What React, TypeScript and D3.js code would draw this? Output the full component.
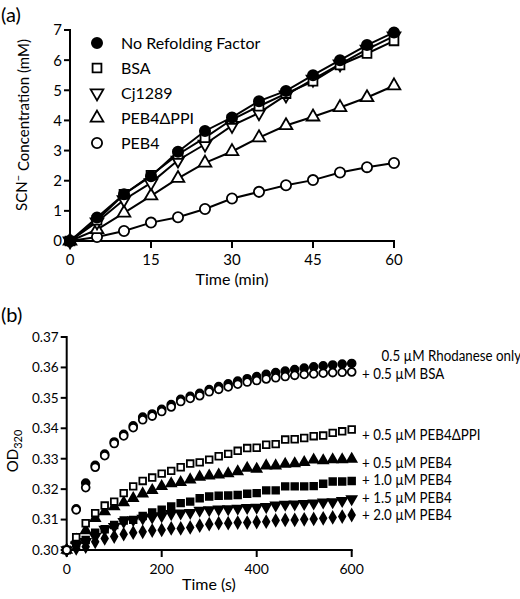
import React from "react";
import * as d3 from "d3";

// ---------- Panel (a) data ----------
const timesA = [0, 5, 10, 15, 20, 25, 30, 35, 40, 45, 50, 55, 60];
const noFactor = [0, 0.78, 1.55, 2.15, 2.96, 3.65, 4.1, 4.64, 4.98, 5.5, 6.0, 6.5, 6.92];
const bsa = [0, 0.69, 1.55, 2.18, 2.87, 3.43, 4.03, 4.47, 4.89, 5.3, 5.84, 6.22, 6.64];
const cj1289 = [0, 0.63, 1.37, 1.93, 2.68, 3.21, 3.83, 4.25, 4.84, 5.36, 5.87, 6.36, 6.8];
const peb4dppi = [0, 0.38, 0.93, 1.5, 2.08, 2.59, 2.97, 3.43, 3.83, 4.12, 4.43, 4.76, 5.15];
const peb4 = [0, 0.13, 0.33, 0.61, 0.79, 1.06, 1.41, 1.63, 1.85, 2.02, 2.27, 2.45, 2.59];
const legendA = ["No Refolding Factor", "BSA", "Cj1289", "PEB4\u0394PPI", "PEB4"];
const xTicksA = [0, 15, 30, 45, 60];
const yTicksA = [0, 1, 2, 3, 4, 5, 6, 7];

// ---------- Panel (b) data ----------
const timesB = d3.range(0, 601, 20);
const rhodOnly = [0.300, 0.3135, 0.3220, 0.3278, 0.3315, 0.3355, 0.3380, 0.3408, 0.3437, 0.3447, 0.3462, 0.3478, 0.3495, 0.3505, 0.3515, 0.3527, 0.3537, 0.3546, 0.3555, 0.3563, 0.3570, 0.3577, 0.3583, 0.3588, 0.3593, 0.3598, 0.3602, 0.3605, 0.3608, 0.3611, 0.3613];
const plusBsa = [0.300, 0.3132, 0.3205, 0.3272, 0.3310, 0.3350, 0.3375, 0.3402, 0.3428, 0.3440, 0.3455, 0.3470, 0.3488, 0.3498, 0.3507, 0.3520, 0.3528, 0.3536, 0.3545, 0.3552, 0.3557, 0.3562, 0.3566, 0.3570, 0.3574, 0.3577, 0.3579, 0.3581, 0.3583, 0.3584, 0.3585];
const plusDppi = [0.300, 0.3042, 0.3088, 0.3121, 0.3146, 0.3159, 0.3187, 0.3209, 0.3227, 0.3238, 0.3251, 0.3260, 0.3272, 0.3284, 0.3288, 0.3297, 0.3308, 0.3316, 0.3326, 0.3335, 0.3336, 0.3346, 0.3348, 0.3363, 0.3364, 0.3368, 0.3374, 0.3376, 0.3385, 0.3390, 0.3396];
const peb4_05 = [0.300, 0.3033, 0.3064, 0.3104, 0.3126, 0.3143, 0.3156, 0.3170, 0.3185, 0.3196, 0.3209, 0.3218, 0.3222, 0.3231, 0.3240, 0.3244, 0.3247, 0.3251, 0.3258, 0.3269, 0.3266, 0.3277, 0.3277, 0.3282, 0.3284, 0.3288, 0.3296, 0.3294, 0.3297, 0.3297, 0.3299];
const peb4_10 = [0.300, 0.3022, 0.3033, 0.3057, 0.3068, 0.3082, 0.3097, 0.3099, 0.3112, 0.3123, 0.3132, 0.3143, 0.3154, 0.3159, 0.3170, 0.3176, 0.3178, 0.3179, 0.3181, 0.3185, 0.3187, 0.3196, 0.3196, 0.3209, 0.3209, 0.3209, 0.3210, 0.3218, 0.3225, 0.3225, 0.3227];
const peb4_15 = [0.300, 0.3016, 0.3027, 0.3044, 0.3068, 0.3077, 0.3093, 0.3099, 0.3104, 0.3108, 0.3112, 0.3119, 0.3121, 0.3123, 0.3130, 0.3132, 0.3134, 0.3135, 0.3137, 0.3139, 0.3140, 0.3142, 0.3147, 0.3150, 0.3151, 0.3152, 0.3154, 0.3157, 0.3158, 0.3162, 0.3168];
const peb4_20 = [0.300, 0.3005, 0.3011, 0.3027, 0.3038, 0.3044, 0.3052, 0.3057, 0.3060, 0.3064, 0.3066, 0.3071, 0.3071, 0.3074, 0.3080, 0.3085, 0.3088, 0.3088, 0.3090, 0.3090, 0.3092, 0.3093, 0.3097, 0.3099, 0.3099, 0.3101, 0.3102, 0.3104, 0.3107, 0.3110, 0.3115];
const labelsB = ["0.5 \u00b5M Rhodanese only", "+ 0.5 \u00b5M BSA", "+ 0.5 \u00b5M PEB4\u0394PPI", "+ 0.5 \u00b5M PEB4", "+ 1.0 \u00b5M PEB4", "+ 1.5 \u00b5M PEB4", "+ 2.0 \u00b5M PEB4"];
const xTicksB = [0, 200, 400, 600];
const yTicksB = [0.30, 0.31, 0.32, 0.33, 0.34, 0.35, 0.36, 0.37];

const FONT = "Lato, 'Open Sans', sans-serif";

type Shape = "circle" | "square" | "triUp" | "triDown" | "diamond";

function symPath(shape: Shape, size: number): string {
  const t =
    shape === "circle" ? d3.symbolCircle :
    shape === "square" ? d3.symbolSquare :
    shape === "diamond" ? d3.symbolDiamond : d3.symbolTriangle;
  return d3.symbol(t, size)() as string;
}

function Marker({ x, y, shape, filled, size, sw }: { x: number; y: number; shape: Shape; filled: boolean; size: number; sw: number }) {
  const rot = shape === "triDown" ? " rotate(180)" : "";
  return (
    <path
      d={symPath(shape, size)}
      transform={`translate(${x},${y})${rot}`}
      fill={filled ? "#000" : "#fff"}
      stroke="#000"
      strokeWidth={sw}
    />
  );
}

export default function App() {
  // Panel (a) scales
  const xA = d3.scaleLinear().domain([0, 60]).range([70, 394]);
  const yA = d3.scaleLinear().domain([0, 7]).range([241, 30]);
  // Panel (b) scales
  const xB = d3.scaleLinear().domain([0, 600]).range([66.7, 351.7]);
  const yB = d3.scaleLinear().domain([0.30, 0.37]).range([550, 337]);

  const seriesA: { vals: number[]; shape: Shape; filled: boolean }[] = [
    { vals: peb4, shape: "circle", filled: false },
    { vals: peb4dppi, shape: "triUp", filled: false },
    { vals: cj1289, shape: "triDown", filled: false },
    { vals: bsa, shape: "square", filled: false },
    { vals: noFactor, shape: "circle", filled: true },
  ];
  const legendShapes: { shape: Shape; filled: boolean }[] = [
    { shape: "circle", filled: true },
    { shape: "square", filled: false },
    { shape: "triDown", filled: false },
    { shape: "triUp", filled: false },
    { shape: "circle", filled: false },
  ];
  const sizeA = (s: Shape) => (s === "circle" ? 82 : s === "square" ? 78 : 70);

  const line = d3.line<number>().x((_, i) => xA(timesA[i])).y((d) => yA(d));

  const seriesB: { vals: number[]; shape: Shape; filled: boolean }[] = [
    { vals: peb4_20, shape: "diamond", filled: true },
    { vals: peb4_15, shape: "triDown", filled: true },
    { vals: peb4_10, shape: "square", filled: true },
    { vals: peb4_05, shape: "triUp", filled: true },
    { vals: plusDppi, shape: "square", filled: false },
    { vals: rhodOnly, shape: "circle", filled: true },
    { vals: plusBsa, shape: "circle", filled: false },
  ];
  const sizeB = (s: Shape) => (s === "circle" ? 48 : s === "square" ? 44 : s === "diamond" ? 36 : 40);
  const labelY = [356, 374, 435, 462.5, 480, 497.5, 515];
  const labelX = [381.5, 362, 362, 362, 362, 362, 362];

  return (
    <svg width={520} height={599} style={{ position: "absolute", left: 0, top: 0, background: "#fff" }} fontFamily={FONT}>
      <rect width={520} height={599} fill="#fff" />
      {/* ---------------- Panel (a) ---------------- */}
      <text x={1} y={22} fontSize={20}>(a)</text>
      {/* axes */}
      <line x1={xA(0)} x2={xA(0)} y1={yA(7) - 1} y2={yA(0) + 1} stroke="#000" strokeWidth={2} />
      <line x1={xA(0) - 1} x2={xA(60) + 1} y1={yA(0)} y2={yA(0)} stroke="#000" strokeWidth={2} />
      {yTicksA.map((t) => (
        <g key={"ya" + t}>
          <line x1={xA(0) - 6} x2={xA(0)} y1={yA(t)} y2={yA(t)} stroke="#000" strokeWidth={2} />
          <text x={xA(0) - 8} y={yA(t)} dy="0.36em" textAnchor="end" fontSize={15}>{t}</text>
        </g>
      ))}
      {xTicksA.map((t) => (
        <g key={"xa" + t}>
          <line x1={xA(t)} x2={xA(t)} y1={yA(0)} y2={yA(0) + 7} stroke="#000" strokeWidth={2} />
          <text x={xA(t)} y={yA(0) + 18.5} dy="0.36em" textAnchor="middle" fontSize={15}>{t}</text>
        </g>
      ))}
      <text x={232} y={279} dy="0.36em" textAnchor="middle" fontSize={16}>Time (min)</text>
      <text transform={`translate(22,125) rotate(-90)`} textAnchor="middle" dy="0.36em" fontSize={15}>
        SCN<tspan dy="-0.45em" fontSize={11}>{"\u2212"}</tspan><tspan dy="0.45em"> Concentration (mM)</tspan>
      </text>
      {/* lines */}
      {seriesA.map((s, i) => (
        <path key={"la" + i} d={line(s.vals) as string} fill="none" stroke="#000" strokeWidth={2} />
      ))}
      {/* markers */}
      {seriesA.map((s, i) =>
        s.vals.map((v, j) => (
          <Marker key={`ma${i}-${j}`} x={xA(timesA[j])} y={yA(v)} shape={s.shape} filled={s.filled} size={sizeA(s.shape)} sw={1.8} />
        ))
      )}
      {/* legend */}
      {legendA.map((name, i) => (
        <g key={"lg" + i}>
          <Marker x={97} y={43 + i * 25} shape={legendShapes[i].shape} filled={legendShapes[i].filled} size={sizeA(legendShapes[i].shape)} sw={1.8} />
          <text x={121} y={43 + i * 25} dy="0.36em" fontSize={16}>{name}</text>
        </g>
      ))}

      {/* ---------------- Panel (b) ---------------- */}
      <text x={1} y={322} fontSize={20}>(b)</text>
      <line x1={xB(0)} x2={xB(0)} y1={yB(0.37) - 1} y2={yB(0.30) + 1} stroke="#000" strokeWidth={2} />
      <line x1={xB(0) - 1} x2={xB(600) + 1} y1={yB(0.30)} y2={yB(0.30)} stroke="#000" strokeWidth={2} />
      {yTicksB.map((t) => (
        <g key={"yb" + t}>
          <line x1={xB(0) - 6} x2={xB(0)} y1={yB(t)} y2={yB(t)} stroke="#000" strokeWidth={2} />
          <text x={xB(0) - 8} y={yB(t)} dy="0.36em" textAnchor="end" fontSize={13.5}>{t.toFixed(2)}</text>
        </g>
      ))}
      {xTicksB.map((t) => (
        <g key={"xb" + t}>
          <line x1={xB(t)} x2={xB(t)} y1={yB(0.30)} y2={yB(0.30) + 7} stroke="#000" strokeWidth={2} />
          <text x={xB(t)} y={569} dy="0.36em" textAnchor="middle" fontSize={14}>{t}</text>
        </g>
      ))}
      <text x={209} y={584} dy="0.36em" textAnchor="middle" fontSize={16}>Time (s)</text>
      <text transform={`translate(13,451) rotate(-90)`} textAnchor="middle" dy="0.36em" fontSize={15}>
        OD<tspan dy="0.35em" fontSize={11}>320</tspan>
      </text>
      {seriesB.map((s, i) =>
        s.vals.map((v, j) => (
          <Marker key={`mb${i}-${j}`} x={xB(timesB[j])} y={yB(v)} shape={s.shape} filled={s.filled} size={sizeB(s.shape)} sw={1.8} />
        ))
      )}
      {labelsB.map((l, i) => (
        <text key={"lb" + i} transform={`translate(${labelX[i]},${labelY[i]}) scale(0.92,1)`} dy="0.36em" fontSize={14.5}>{l}</text>
      ))}
    </svg>
  );
}
